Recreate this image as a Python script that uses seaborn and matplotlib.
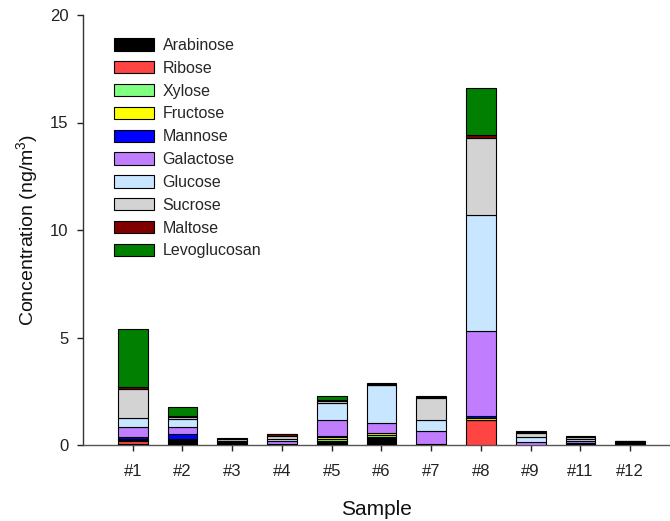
import matplotlib
matplotlib.use("Agg")
import matplotlib.pyplot as plt
import seaborn as sns
import numpy as np
import pandas as pd
from matplotlib.patches import Patch

samples = ["#1", "#2", "#3", "#4", "#5", "#6", "#7", "#8", "#9", "#11", "#12"]
sugars = ["Arabinose", "Ribose", "Xylose", "Fructose", "Mannose",
          "Galactose", "Glucose", "Sucrose", "Maltose", "Levoglucosan"]
colors = ["#000000", "#FF4444", "#80FF80", "#FFFF00", "#0000FF",
          "#C07EFF", "#C8E6FF", "#D3D3D3", "#800000", "#007F00"]

arabinose    = [0.05, 0.22, 0.08, 0.05, 0.18, 0.38, 0.03, 0.02, 0.02, 0.05, 0.05]
ribose       = [0.15, 0.00, 0.00, 0.00, 0.02, 0.00, 0.00, 1.12, 0.00, 0.00, 0.00]
xylose       = [0.05, 0.06, 0.00, 0.00, 0.10, 0.10, 0.00, 0.02, 0.00, 0.00, 0.00]
fructose     = [0.05, 0.02, 0.00, 0.00, 0.06, 0.06, 0.00, 0.08, 0.00, 0.00, 0.00]
mannose      = [0.05, 0.22, 0.00, 0.00, 0.05, 0.00, 0.00, 0.12, 0.00, 0.03, 0.00]
galactose    = [0.48, 0.33, 0.04, 0.12, 0.74, 0.48, 0.60, 3.96, 0.10, 0.10, 0.04]
glucose      = [0.44, 0.37, 0.08, 0.12, 0.80, 1.75, 0.55, 5.36, 0.25, 0.10, 0.04]
sucrose      = [1.34, 0.10, 0.10, 0.15, 0.10, 0.04, 1.00, 3.58, 0.20, 0.10, 0.05]
maltose      = [0.08, 0.03, 0.00, 0.05, 0.03, 0.02, 0.03, 0.15, 0.02, 0.00, 0.00]
levoglucosan = [2.72, 0.40, 0.04, 0.04, 0.22, 0.04, 0.05, 2.18, 0.04, 0.03, 0.02]

series = [arabinose, ribose, xylose, fructose, mannose,
          galactose, glucose, sucrose, maltose, levoglucosan]

sns.set_theme(style="ticks")
plt.rcParams["font.family"] = ["Liberation Sans", "DejaVu Sans"]
plt.rcParams["mathtext.default"] = "regular"

fig = plt.figure(figsize=(6.70, 5.21), dpi=100)
ax = fig.add_axes([83 / 670, 1 - 445 / 521, 1 - 83 / 670, (445 - 15) / 521])

bottom = np.zeros(len(samples))
for name, vals, col in zip(sugars, series, colors):
    df = pd.DataFrame({"Sample": samples, "Concentration": vals})
    sns.barplot(data=df, x="Sample", y="Concentration", color=col,
                width=0.6, bottom=bottom.copy(), edgecolor="black",
                linewidth=0.8, saturation=1, errorbar=None, ax=ax, zorder=3)
    bottom += np.array(vals)

ax.set_ylim(0, 20)
ax.set_xlim(-1.0, 10.8)
ax.set_yticks([0, 5, 10, 15, 20])
ax.set_yticklabels(["0", "5", "10", "15", "20"])
sns.despine(ax=ax)
ax.spines["left"].set_linewidth(1.0)
ax.spines["bottom"].set_linewidth(1.0)
ax.spines["left"].set_color("#333333")
ax.spines["bottom"].set_color("#555555")
ax.tick_params(axis="both", direction="out", length=4.5, width=1.0,
               labelsize=12, colors="#222222", pad=6)
ax.tick_params(axis="x", pad=9)
ax.set_xlabel("Sample", fontsize=15, labelpad=15, color="#111111")
ax.set_ylabel("Concentration (ng/m$^3$)", fontsize=14, labelpad=7, color="#111111")

handles = [Patch(facecolor=c, edgecolor="black", linewidth=0.8, label=n)
           for n, c in zip(sugars, colors)]
ax.legend(handles=handles, loc="upper left", bbox_to_anchor=(114 / 670, 1 - 38 / 521),
          bbox_transform=fig.transFigure, frameon=False, fontsize=11.5,
          handlelength=2.5, handleheight=0.8, handletextpad=0.55,
          labelspacing=0.49, borderaxespad=0, borderpad=0)

fig.savefig("out.png", dpi=100)
